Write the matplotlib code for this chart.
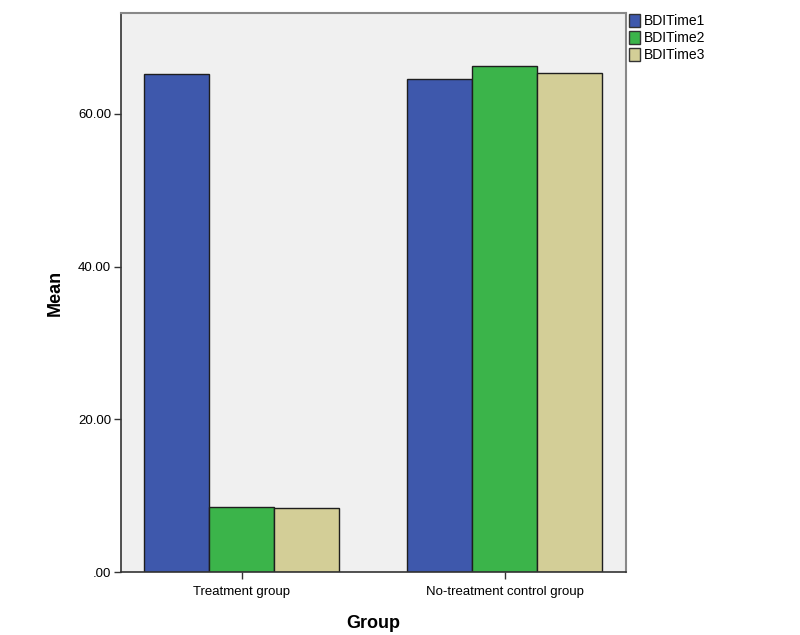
import matplotlib
matplotlib.use("Agg")
import matplotlib.pyplot as plt
import numpy as np
from matplotlib.patches import Patch

plt.rcParams['font.family'] = ['Liberation Sans', 'DejaVu Sans']

groups = ["Treatment group", "No-treatment control group"]
series = ["BDITime1", "BDITime2", "BDITime3"]
time1 = [65.2, 64.6]
time2 = [8.55, 66.3]
time3 = [8.35, 65.3]
colors = ["#3e58ac", "#3bb44a", "#d3ce97"]
yticks = [0, 20, 40, 60]
ytick_labels = [".00", "20.00", "40.00", "60.00"]

fig = plt.figure(figsize=(8.0, 6.35), dpi=100)
ax = fig.add_axes([0.151, 0.0992, 0.6315, 0.8803])
ax.set_facecolor("#f0f0f0")

x = np.arange(len(groups))
w = 0.247
for i, (vals, c) in enumerate(zip([time1, time2, time3], colors)):
    ax.bar(x + (i - 1) * w, vals, width=w, color=c, edgecolor="#1e1e1e",
           linewidth=1.0, label=series[i], zorder=2)

ax.set_xlim(-0.46, 1.46)
ax.set_ylim(0, 73.2)
ax.set_xticks(x)
ax.set_xticklabels(groups, fontsize=9.5)
ax.set_yticks(yticks)
ax.set_yticklabels(ytick_labels, fontsize=9.5)
ax.tick_params(axis='both', direction='out', length=5, width=1, color="#333333", pad=2)
ax.tick_params(axis='x', pad=5)

for s in ['left', 'bottom']:
    ax.spines[s].set_color("#333333")
    ax.spines[s].set_linewidth(1.2)
for s in ['top', 'right']:
    ax.spines[s].set_color("#888888")
    ax.spines[s].set_linewidth(1.5)

ax.set_xlabel("Group", fontsize=13, fontweight='bold', labelpad=12)
ax.set_ylabel("Mean", fontsize=13, fontweight='bold', labelpad=10)

handles = [Patch(facecolor=c, edgecolor="#333333", label=s) for c, s in zip(colors, series)]
fig.legend(handles=handles, loc='upper left', bbox_to_anchor=(0.783, 0.983),
           frameon=False, fontsize=10, handlelength=0.75, handleheight=1.1,
           handletextpad=0.3, labelspacing=0.2, borderaxespad=0, borderpad=0.2)

fig.savefig("out.png", dpi=100)
